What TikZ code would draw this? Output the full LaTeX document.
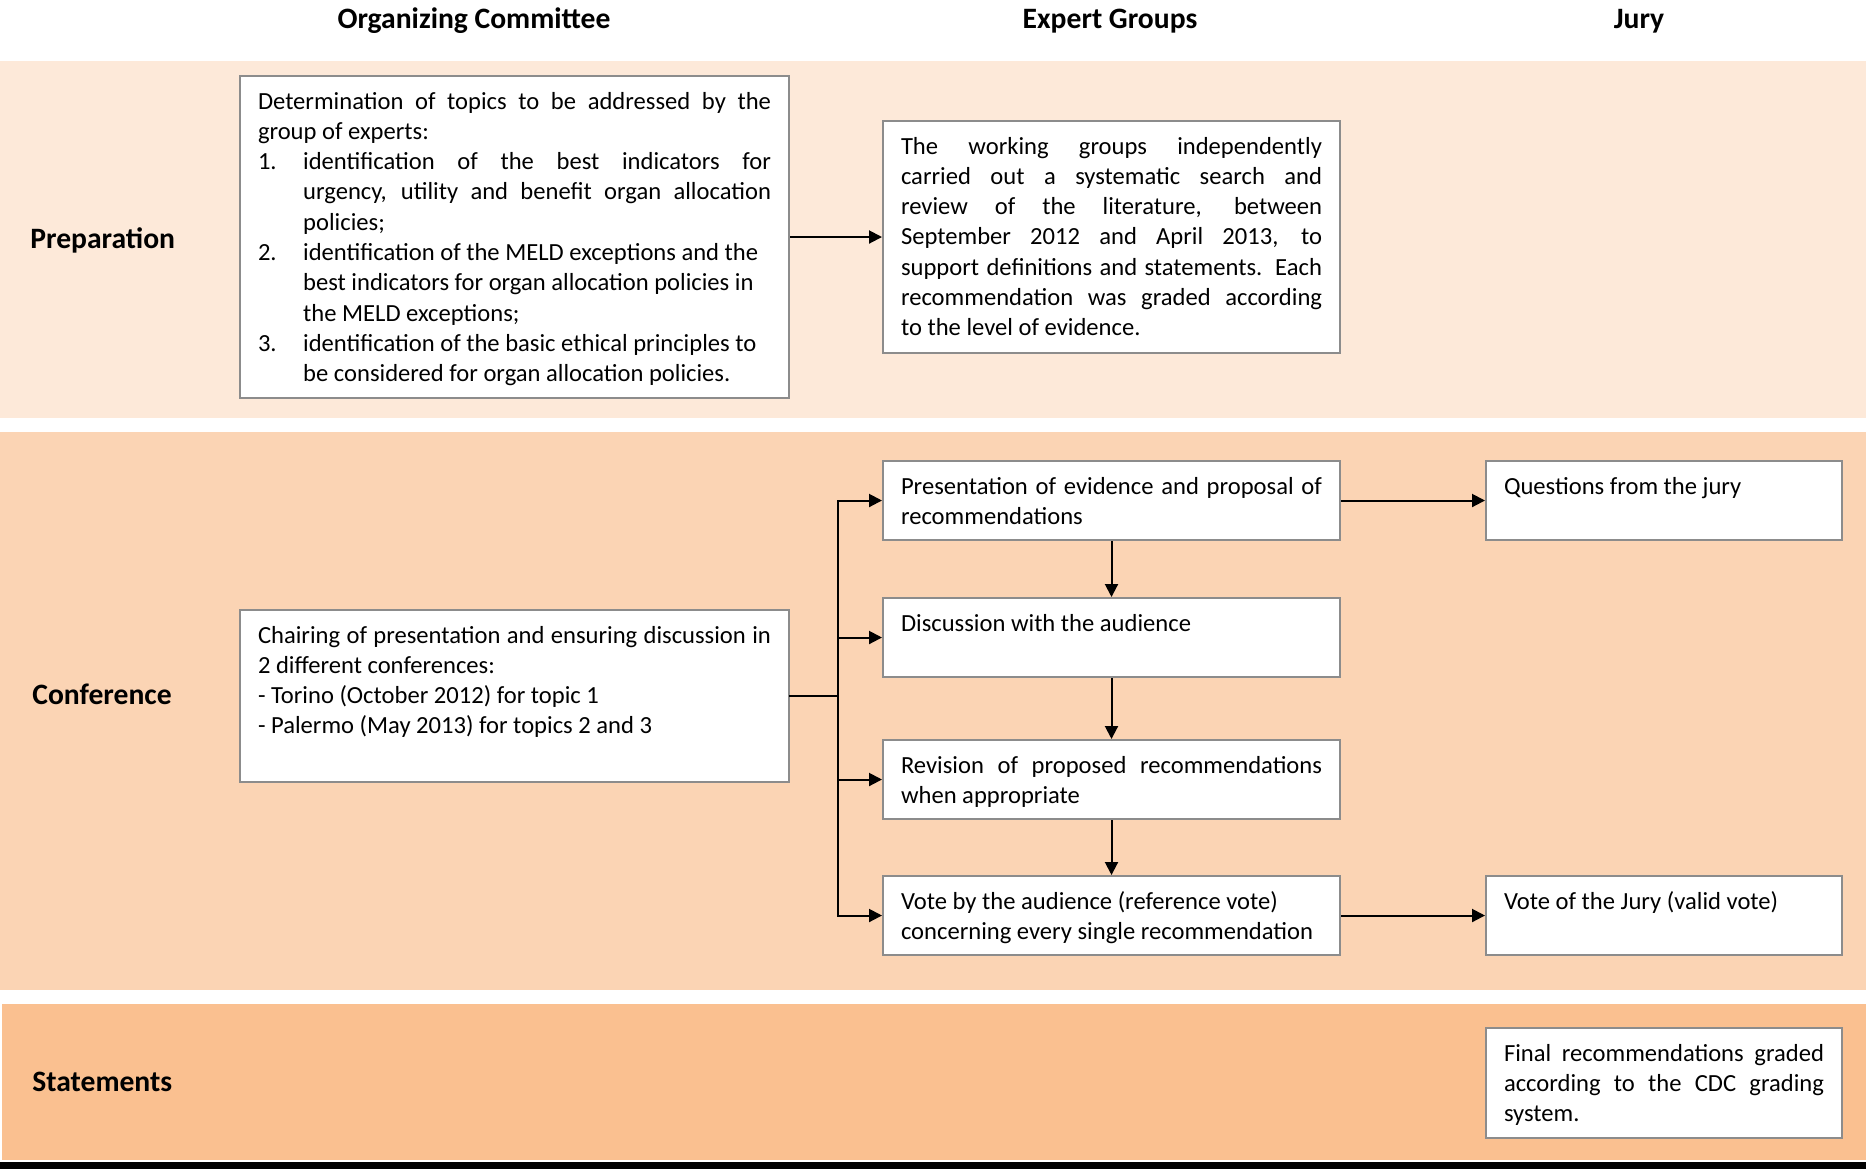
\documentclass[tikz,border=0pt]{standalone}
\usepackage{fontspec}
\setmainfont{Carlito}
\usetikzlibrary{arrows.meta, positioning}

\definecolor{prepfill}{HTML}{FDE9D9}
\definecolor{conffill}{HTML}{FBD4B4}
\definecolor{statfill}{HTML}{FAC090}
\definecolor{boxgray}{HTML}{8C8C8C}

\begin{document}
\begin{tikzpicture}[
    x=0.5pt, y=-0.5pt,
    font=\fontsize{12.3}{15.15}\selectfont,
    box/.style 2 args={rectangle, draw=boxgray, line width=1pt, fill=white, anchor=north west,
      inner xsep=9pt, inner ysep=5pt,
      execute at begin node={\begin{minipage}[t][#2][t]{#1}\rule{0pt}{11.5pt}},
      execute at end node={\endgraf\end{minipage}}},
    ocbox/.style={box={256.5pt}{#1}},
    egbox/.style={box={210.5pt}{#1}},
    jurybox/.style={box={160pt}{#1}},
    head/.style={font=\fontsize{14.8}{17}\selectfont\bfseries, anchor=base, inner sep=0pt},
    phase/.style={head, anchor=base west},
    arrow/.style={-{Triangle[length=6.5pt, width=6.5pt]}, line width=1pt},
    link/.style={line width=1pt, line cap=rect},
  ]
  \useasboundingbox (0,0) rectangle (1866,1169);
  \fill[prepfill] (0,61) rectangle (1866,418);
  \fill[conffill] (0,432) rectangle (1866,990);
  \fill[statfill] (2,1004) rectangle (1866,1160);
  \fill[black] (0,1162) rectangle (1866,1169);

  \node[head] (hOC)   at (474,28)  {Organizing Committee};
  \node[head] (hEG)   at (1110,28) {Expert Groups};
  \node[head] (hJury) at (1639,28) {Jury};

  \node[phase] (prep) at (30,248)  {Preparation};
  \node[phase] (conf) at (32,704)  {Conference};
  \node[phase] (stat) at (32,1091) {Statements};

  \node[ocbox=151pt] (prepOC) at (239,75) {Determination of topics to be addressed by the\linebreak group of experts:\par
    \hangindent=22.6pt\makebox[22.6pt][l]{1.}identification of the best indicators for\linebreak urgency, utility and benefit organ allocation\linebreak policies;\par
    \hangindent=22.6pt\makebox[22.6pt][l]{2.}identification of the MELD exceptions and the\\ best indicators for organ allocation policies in\\ the MELD exceptions;\par
    \hangindent=22.6pt\makebox[22.6pt][l]{3.}identification of the basic ethical principles to\\ be considered for organ allocation policies.\par};
  \node[egbox=106pt] (prepEG) at (882,120) {The working groups independently\linebreak carried out a systematic search and\linebreak review of the literature, between\linebreak September 2012 and April 2013, to\linebreak support definitions and statements. Each\linebreak recommendation was graded according\linebreak to the level of evidence.};

  \node[ocbox=76pt] (confOC) at (239,609) {Chairing of presentation and ensuring discussion in\linebreak 2 different conferences:\par
    - Torino (October 2012) for topic 1\par
    - Palermo (May 2013) for topics 2 and 3};
  \node[egbox=29.5pt] (pres) at (882,460) {Presentation of evidence and proposal of\linebreak recommendations};
  \node[egbox=29.5pt] (disc) at (882,597) {Discussion with the audience};
  \node[egbox=29.5pt] (rev)  at (882,739) {Revision of proposed recommendations\linebreak when appropriate};
  \node[egbox=29.5pt] (vote) at (882,875) {Vote by the audience (reference vote)\\ concerning every single recommendation};
  \node[jurybox=29.5pt] (ques)  at (1485,460) {Questions from the jury};
  \node[jurybox=29.5pt] (votej) at (1485,875) {Vote of the Jury (valid vote)};

  \node[jurybox=45pt] (final) at (1485,1027) {Final recommendations graded\linebreak according to the CDC grading\linebreak system.};

  \draw[arrow] (prepOC) -- (prepEG);
  \coordinate[right=24pt of confOC.east] (split);
  \draw[link] (confOC.east) -- (split);
  \draw[link] (split |- pres) -- (split |- vote);
  \foreach \n in {pres, disc, rev, vote}
    \draw[arrow] (split |- \n) -- (\n);
  \draw[arrow] (pres) -- (disc);
  \draw[arrow] (disc) -- (rev);
  \draw[arrow] (rev) -- (vote);
  \draw[arrow] (pres) -- (ques);
  \draw[arrow] (vote) -- (votej);
\end{tikzpicture}
\end{document}
